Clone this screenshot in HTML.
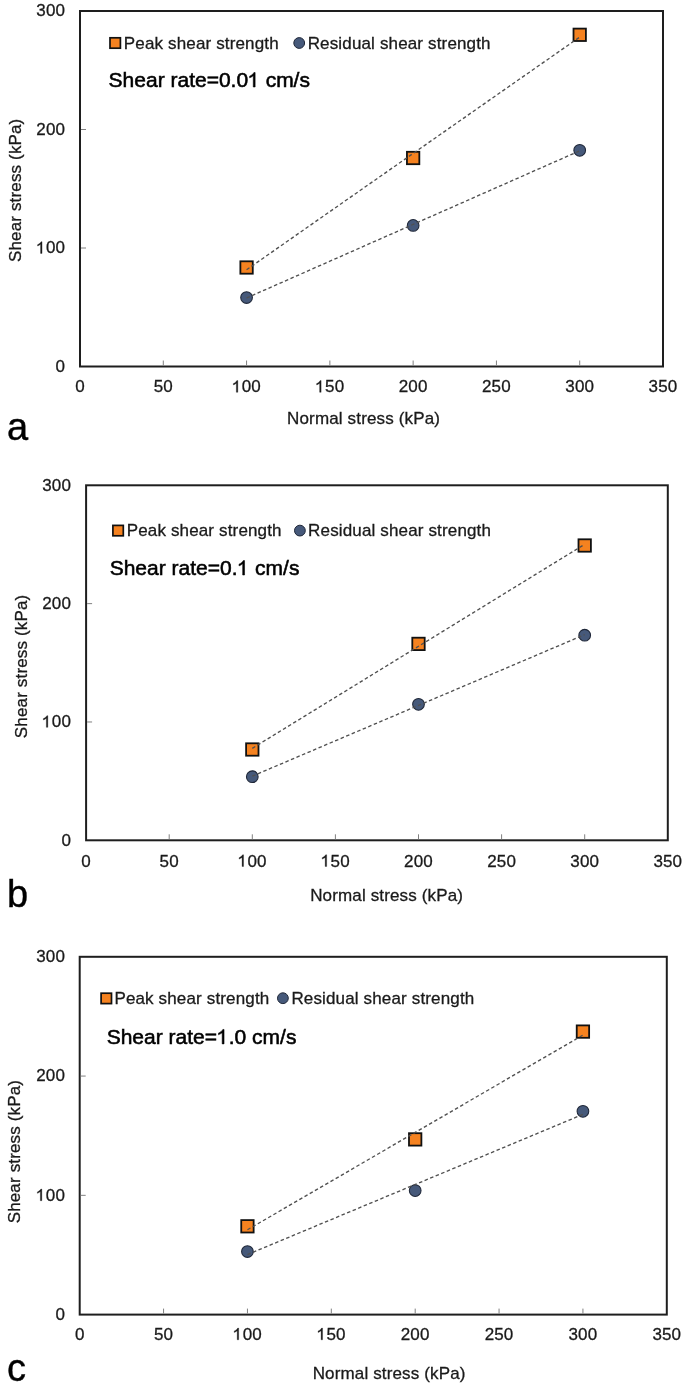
<!DOCTYPE html>
<html><head><meta charset="utf-8"><style>
html,body{margin:0;padding:0;background:#fff;}
body{width:685px;height:1389px;overflow:hidden;}
svg{display:block;will-change:transform;filter:blur(0.25px);}
text{font-family:"Liberation Sans", sans-serif;fill:#1a1a1a;stroke:#1a1a1a;stroke-width:0.3px;}
.t17{font-size:17px;letter-spacing:0.15px;}
.h1{fill-opacity:0;stroke-opacity:0;}
.t21{font-size:21px;fill:#000;stroke:#000;stroke-width:0.55px;}
.t38{font-size:38px;fill:#000;stroke:#000;stroke-width:0.4px;}
</style></head><body>
<svg width="685" height="1389" viewBox="0 0 685 1389">
<rect width="685" height="1389" fill="#fff"/>
<rect x="80" y="11" width="583" height="355.5" fill="none" stroke="#1E1E1E" stroke-width="2"/>
<line x1="163.29" y1="365.5" x2="163.29" y2="360.5" stroke="#808080" stroke-width="1"/>
<line x1="246.57" y1="365.5" x2="246.57" y2="360.5" stroke="#808080" stroke-width="1"/>
<line x1="329.86" y1="365.5" x2="329.86" y2="360.5" stroke="#808080" stroke-width="1"/>
<line x1="413.14" y1="365.5" x2="413.14" y2="360.5" stroke="#808080" stroke-width="1"/>
<line x1="496.43" y1="365.5" x2="496.43" y2="360.5" stroke="#808080" stroke-width="1"/>
<line x1="579.71" y1="365.5" x2="579.71" y2="360.5" stroke="#808080" stroke-width="1"/>
<line x1="81" y1="248" x2="86" y2="248" stroke="#808080" stroke-width="1"/>
<line x1="81" y1="129.5" x2="86" y2="129.5" stroke="#808080" stroke-width="1"/>
<text x="80" y="392.3" text-anchor="middle" class="t17">0</text>
<text x="163.29" y="392.3" text-anchor="middle" class="t17">50</text>
<text x="246.57" y="392.3" text-anchor="middle" class="t17"><tspan class="h1">1</tspan>00</text>
<text x="329.86" y="392.3" text-anchor="middle" class="t17"><tspan class="h1">1</tspan>50</text>
<text x="413.14" y="392.3" text-anchor="middle" class="t17">200</text>
<text x="496.43" y="392.3" text-anchor="middle" class="t17">250</text>
<text x="579.71" y="392.3" text-anchor="middle" class="t17">300</text>
<text x="663" y="392.3" text-anchor="middle" class="t17">350</text>
<text x="65.2" y="371.9" text-anchor="end" class="t17">0</text>
<text x="65.2" y="253.4" text-anchor="end" class="t17"><tspan class="h1">1</tspan>00</text>
<text x="65.2" y="134.9" text-anchor="end" class="t17">200</text>
<text x="65.2" y="16.4" text-anchor="end" class="t17">300</text>
<text transform="translate(20.7,190.3) rotate(-90)" text-anchor="middle" class="t17">Shear stress (kPa)</text>
<text x="363.6" y="423.6" text-anchor="middle" class="t17">Normal stress (kPa)</text>
<text x="108.6" y="87" class="t21">Shear rate=0.0<tspan class="h1">1</tspan> cm/s</text>
<rect x="110" y="37.8" width="10.4" height="10.4" fill="#F58220" stroke="#111" stroke-width="1.7"/>
<text x="123.8" y="48.7" class="t17">Peak shear strength</text>
<circle cx="299.2" cy="43" r="5.4" fill="#46597A" stroke="#1F2738" stroke-width="1"/>
<text x="307.7" y="48.7" class="t17">Residual shear strength</text>
<rect x="240.37" y="261.3" width="12.4" height="12.4" fill="#F58220" stroke="#111" stroke-width="1.8"/>
<circle cx="246.57" cy="297.5" r="5.85" fill="#46597A" stroke="#1F2738" stroke-width="1.05"/>
<rect x="406.94" y="151.8" width="12.4" height="12.4" fill="#F58220" stroke="#111" stroke-width="1.8"/>
<circle cx="413.14" cy="225.4" r="5.85" fill="#46597A" stroke="#1F2738" stroke-width="1.05"/>
<rect x="573.51" y="28.6" width="12.4" height="12.4" fill="#F58220" stroke="#111" stroke-width="1.8"/>
<circle cx="579.71" cy="150.3" r="5.85" fill="#46597A" stroke="#1F2738" stroke-width="1.05"/>
<line x1="246.57" y1="269.78" x2="579.71" y2="37.08" stroke="#505050" stroke-width="1.35" stroke-dasharray="3.5 2.5"/>
<line x1="246.57" y1="298" x2="579.71" y2="150.8" stroke="#505050" stroke-width="1.35" stroke-dasharray="3.5 2.5"/>
<text x="7" y="440" class="t38">a</text>
<rect x="86.1" y="485.3" width="581.7" height="355" fill="none" stroke="#1E1E1E" stroke-width="2"/>
<line x1="169.2" y1="839.3" x2="169.2" y2="834.3" stroke="#808080" stroke-width="1"/>
<line x1="252.3" y1="839.3" x2="252.3" y2="834.3" stroke="#808080" stroke-width="1"/>
<line x1="335.4" y1="839.3" x2="335.4" y2="834.3" stroke="#808080" stroke-width="1"/>
<line x1="418.5" y1="839.3" x2="418.5" y2="834.3" stroke="#808080" stroke-width="1"/>
<line x1="501.6" y1="839.3" x2="501.6" y2="834.3" stroke="#808080" stroke-width="1"/>
<line x1="584.7" y1="839.3" x2="584.7" y2="834.3" stroke="#808080" stroke-width="1"/>
<line x1="87.1" y1="721.97" x2="92.1" y2="721.97" stroke="#808080" stroke-width="1"/>
<line x1="87.1" y1="603.63" x2="92.1" y2="603.63" stroke="#808080" stroke-width="1"/>
<text x="86.1" y="866.5" text-anchor="middle" class="t17">0</text>
<text x="169.2" y="866.5" text-anchor="middle" class="t17">50</text>
<text x="252.3" y="866.5" text-anchor="middle" class="t17"><tspan class="h1">1</tspan>00</text>
<text x="335.4" y="866.5" text-anchor="middle" class="t17"><tspan class="h1">1</tspan>50</text>
<text x="418.5" y="866.5" text-anchor="middle" class="t17">200</text>
<text x="501.6" y="866.5" text-anchor="middle" class="t17">250</text>
<text x="584.7" y="866.5" text-anchor="middle" class="t17">300</text>
<text x="667.8" y="866.5" text-anchor="middle" class="t17">350</text>
<text x="71" y="845.7" text-anchor="end" class="t17">0</text>
<text x="71" y="727.37" text-anchor="end" class="t17"><tspan class="h1">1</tspan>00</text>
<text x="71" y="609.03" text-anchor="end" class="t17">200</text>
<text x="71" y="490.7" text-anchor="end" class="t17">300</text>
<text transform="translate(27.2,666.4) rotate(-90)" text-anchor="middle" class="t17">Shear stress (kPa)</text>
<text x="386.65" y="901.4" text-anchor="middle" class="t17">Normal stress (kPa)</text>
<text x="109.7" y="575" class="t21">Shear rate=0.<tspan class="h1">1</tspan> cm/s</text>
<rect x="112.9" y="525.4" width="10.4" height="10.4" fill="#F58220" stroke="#111" stroke-width="1.7"/>
<text x="126.7" y="536" class="t17">Peak shear strength</text>
<circle cx="299.9" cy="530.6" r="5.4" fill="#46597A" stroke="#1F2738" stroke-width="1"/>
<text x="308.1" y="536" class="t17">Residual shear strength</text>
<rect x="246.1" y="743.3" width="12.4" height="12.4" fill="#F58220" stroke="#111" stroke-width="1.8"/>
<circle cx="252.3" cy="776.7" r="5.85" fill="#46597A" stroke="#1F2738" stroke-width="1.05"/>
<rect x="412.3" y="637.7" width="12.4" height="12.4" fill="#F58220" stroke="#111" stroke-width="1.8"/>
<circle cx="418.5" cy="704.3" r="5.85" fill="#46597A" stroke="#1F2738" stroke-width="1.05"/>
<rect x="578.5" y="539.3" width="12.4" height="12.4" fill="#F58220" stroke="#111" stroke-width="1.8"/>
<circle cx="584.7" cy="635.2" r="5.85" fill="#46597A" stroke="#1F2738" stroke-width="1.05"/>
<line x1="252.3" y1="748.3" x2="584.7" y2="544.3" stroke="#505050" stroke-width="1.35" stroke-dasharray="3.5 2.5"/>
<line x1="252.3" y1="776.15" x2="584.7" y2="634.65" stroke="#505050" stroke-width="1.35" stroke-dasharray="3.5 2.5"/>
<text x="7" y="906.5" class="t38">b</text>
<rect x="79.7" y="956.8" width="587.1" height="357.8" fill="none" stroke="#1E1E1E" stroke-width="2"/>
<line x1="163.57" y1="1313.6" x2="163.57" y2="1308.6" stroke="#808080" stroke-width="1"/>
<line x1="247.44" y1="1313.6" x2="247.44" y2="1308.6" stroke="#808080" stroke-width="1"/>
<line x1="331.31" y1="1313.6" x2="331.31" y2="1308.6" stroke="#808080" stroke-width="1"/>
<line x1="415.19" y1="1313.6" x2="415.19" y2="1308.6" stroke="#808080" stroke-width="1"/>
<line x1="499.06" y1="1313.6" x2="499.06" y2="1308.6" stroke="#808080" stroke-width="1"/>
<line x1="582.93" y1="1313.6" x2="582.93" y2="1308.6" stroke="#808080" stroke-width="1"/>
<line x1="80.7" y1="1195.33" x2="85.7" y2="1195.33" stroke="#808080" stroke-width="1"/>
<line x1="80.7" y1="1076.07" x2="85.7" y2="1076.07" stroke="#808080" stroke-width="1"/>
<text x="79.7" y="1339.8" text-anchor="middle" class="t17">0</text>
<text x="163.57" y="1339.8" text-anchor="middle" class="t17">50</text>
<text x="247.44" y="1339.8" text-anchor="middle" class="t17"><tspan class="h1">1</tspan>00</text>
<text x="331.31" y="1339.8" text-anchor="middle" class="t17"><tspan class="h1">1</tspan>50</text>
<text x="415.19" y="1339.8" text-anchor="middle" class="t17">200</text>
<text x="499.06" y="1339.8" text-anchor="middle" class="t17">250</text>
<text x="582.93" y="1339.8" text-anchor="middle" class="t17">300</text>
<text x="666.8" y="1339.8" text-anchor="middle" class="t17">350</text>
<text x="65" y="1320" text-anchor="end" class="t17">0</text>
<text x="65" y="1200.73" text-anchor="end" class="t17"><tspan class="h1">1</tspan>00</text>
<text x="65" y="1081.47" text-anchor="end" class="t17">200</text>
<text x="65" y="962.2" text-anchor="end" class="t17">300</text>
<text transform="translate(20.3,1151.6) rotate(-90)" text-anchor="middle" class="t17">Shear stress (kPa)</text>
<text x="389.15" y="1378.6" text-anchor="middle" class="t17">Normal stress (kPa)</text>
<text x="106.7" y="1043.9" class="t21">Shear rate=<tspan class="h1">1</tspan>.0 cm/s</text>
<rect x="101.1" y="993.2" width="10.4" height="10.4" fill="#F58220" stroke="#111" stroke-width="1.7"/>
<text x="114.4" y="1003.7" class="t17">Peak shear strength</text>
<circle cx="282.9" cy="998.2" r="5.4" fill="#46597A" stroke="#1F2738" stroke-width="1"/>
<text x="291.4" y="1003.7" class="t17">Residual shear strength</text>
<rect x="241.24" y="1220.1" width="12.4" height="12.4" fill="#F58220" stroke="#111" stroke-width="1.8"/>
<circle cx="247.44" cy="1251.5" r="5.85" fill="#46597A" stroke="#1F2738" stroke-width="1.05"/>
<rect x="408.99" y="1133.2" width="12.4" height="12.4" fill="#F58220" stroke="#111" stroke-width="1.8"/>
<circle cx="415.19" cy="1190.6" r="5.85" fill="#46597A" stroke="#1F2738" stroke-width="1.05"/>
<rect x="576.73" y="1025.4" width="12.4" height="12.4" fill="#F58220" stroke="#111" stroke-width="1.8"/>
<circle cx="582.93" cy="1111.3" r="5.85" fill="#46597A" stroke="#1F2738" stroke-width="1.05"/>
<line x1="247.44" y1="1229.78" x2="582.93" y2="1035.08" stroke="#505050" stroke-width="1.35" stroke-dasharray="3.5 2.5"/>
<line x1="247.44" y1="1254.57" x2="582.93" y2="1114.37" stroke="#505050" stroke-width="1.35" stroke-dasharray="3.5 2.5"/>
<text x="7" y="1380.5" class="t38">c</text>
<path transform="translate(232.16,392.30) scale(0.008301,-0.008301)" d="M683 0H503V1098Q438 1039 333 979Q227 920 143 890V1057Q294 1124 407 1221Q520 1318 567 1409H683Z" fill="#1a1a1a" stroke="#1a1a1a" stroke-width="36.1"/>
<path transform="translate(315.45,392.30) scale(0.008301,-0.008301)" d="M683 0H503V1098Q438 1039 333 979Q227 920 143 890V1057Q294 1124 407 1221Q520 1318 567 1409H683Z" fill="#1a1a1a" stroke="#1a1a1a" stroke-width="36.1"/>
<path transform="translate(36.37,253.40) scale(0.008301,-0.008301)" d="M683 0H503V1098Q438 1039 333 979Q227 920 143 890V1057Q294 1124 407 1221Q520 1318 567 1409H683Z" fill="#1a1a1a" stroke="#1a1a1a" stroke-width="36.1"/>
<path transform="translate(248.12,87.00) scale(0.010254,-0.010254)" d="M683 0H503V1098Q438 1039 333 979Q227 920 143 890V1057Q294 1124 407 1221Q520 1318 567 1409H683Z" fill="#000" stroke="#000" stroke-width="53.6"/>
<path transform="translate(237.89,866.50) scale(0.008301,-0.008301)" d="M683 0H503V1098Q438 1039 333 979Q227 920 143 890V1057Q294 1124 407 1221Q520 1318 567 1409H683Z" fill="#1a1a1a" stroke="#1a1a1a" stroke-width="36.1"/>
<path transform="translate(320.99,866.50) scale(0.008301,-0.008301)" d="M683 0H503V1098Q438 1039 333 979Q227 920 143 890V1057Q294 1124 407 1221Q520 1318 567 1409H683Z" fill="#1a1a1a" stroke="#1a1a1a" stroke-width="36.1"/>
<path transform="translate(42.17,727.37) scale(0.008301,-0.008301)" d="M683 0H503V1098Q438 1039 333 979Q227 920 143 890V1057Q294 1124 407 1221Q520 1318 567 1409H683Z" fill="#1a1a1a" stroke="#1a1a1a" stroke-width="36.1"/>
<path transform="translate(237.54,575.00) scale(0.010254,-0.010254)" d="M683 0H503V1098Q438 1039 333 979Q227 920 143 890V1057Q294 1124 407 1221Q520 1318 567 1409H683Z" fill="#000" stroke="#000" stroke-width="53.6"/>
<path transform="translate(233.03,1339.80) scale(0.008301,-0.008301)" d="M683 0H503V1098Q438 1039 333 979Q227 920 143 890V1057Q294 1124 407 1221Q520 1318 567 1409H683Z" fill="#1a1a1a" stroke="#1a1a1a" stroke-width="36.1"/>
<path transform="translate(316.90,1339.80) scale(0.008301,-0.008301)" d="M683 0H503V1098Q438 1039 333 979Q227 920 143 890V1057Q294 1124 407 1221Q520 1318 567 1409H683Z" fill="#1a1a1a" stroke="#1a1a1a" stroke-width="36.1"/>
<path transform="translate(36.17,1200.73) scale(0.008301,-0.008301)" d="M683 0H503V1098Q438 1039 333 979Q227 920 143 890V1057Q294 1124 407 1221Q520 1318 567 1409H683Z" fill="#1a1a1a" stroke="#1a1a1a" stroke-width="36.1"/>
<path transform="translate(217.03,1043.90) scale(0.010254,-0.010254)" d="M683 0H503V1098Q438 1039 333 979Q227 920 143 890V1057Q294 1124 407 1221Q520 1318 567 1409H683Z" fill="#000" stroke="#000" stroke-width="53.6"/>
</svg>
</body></html>
